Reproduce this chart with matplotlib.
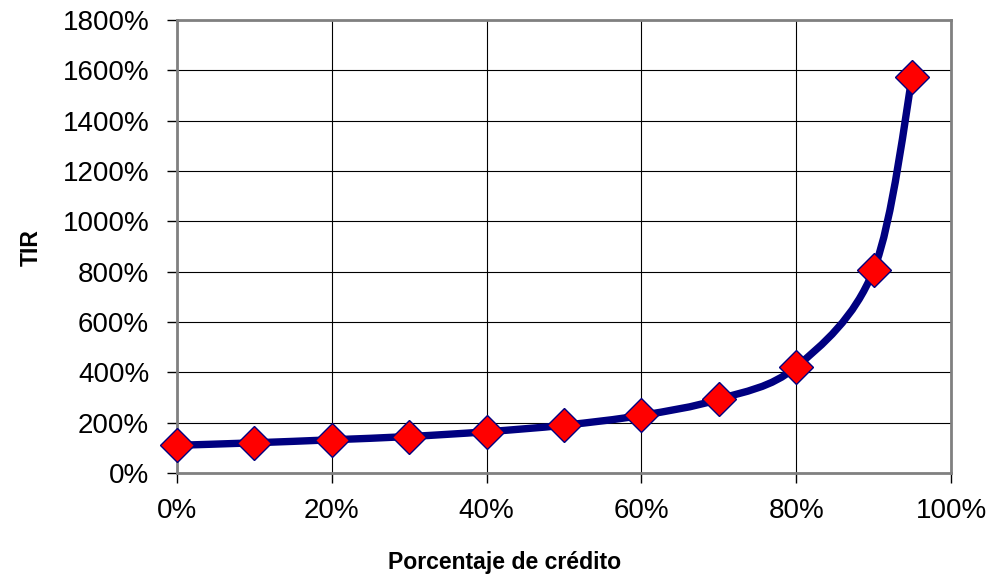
import matplotlib.pyplot as plt
from matplotlib.path import Path
from matplotlib.patches import PathPatch
from matplotlib.ticker import FuncFormatter, MultipleLocator

plt.rcParams['font.family'] = ['Liberation Sans', 'DejaVu Sans']

credito = [0.0, 0.10, 0.20, 0.30, 0.40, 0.50, 0.60, 0.70, 0.80, 0.90, 0.95]
tir = [1.10, 1.20, 1.32, 1.45, 1.64, 1.90, 2.29, 2.93, 4.22, 8.06, 15.74]

fig = plt.figure(figsize=(9.89, 5.78), dpi=100)
ax = fig.add_axes([177 / 989, 105 / 578, 774 / 989, 453 / 578])

# smoothed line like the spreadsheet one (Catmull-Rom -> bezier)
pts = list(zip(credito, tir))
verts = [pts[0]]
codes = [Path.MOVETO]
n = len(pts)
for i in range(n - 1):
    p0 = pts[max(i - 1, 0)]
    p1 = pts[i]
    p2 = pts[i + 1]
    p3 = pts[min(i + 2, n - 1)]
    c1 = (p1[0] + (p2[0] - p0[0]) / 6, p1[1] + (p2[1] - p0[1]) / 6)
    c2 = (p2[0] - (p3[0] - p1[0]) / 6, p2[1] - (p3[1] - p1[1]) / 6)
    verts += [c1, c2, p2]
    codes += [Path.CURVE4] * 3
ax.add_patch(PathPatch(Path(verts, codes), facecolor='none', edgecolor='#000080',
                       lw=5.3, capstyle='round', joinstyle='round', zorder=3,
                       clip_on=False))
ax.plot(credito, tir, ls='none', marker='D', ms=17, mfc='#ff0000', mec='#000080',
        mew=1, zorder=4, clip_on=False)

ax.set_xlim(0, 1)
ax.set_ylim(0, 18)
ax.xaxis.set_major_locator(MultipleLocator(0.2))
ax.yaxis.set_major_locator(MultipleLocator(2))
ax.xaxis.set_major_formatter(FuncFormatter(lambda v, p: f'{v * 100:.0f}%'))
ax.yaxis.set_major_formatter(FuncFormatter(lambda v, p: f'{v * 100:.0f}%'))
ax.tick_params(axis='both', labelsize=20, length=7, width=1, direction='out',
               color='black')
ax.tick_params(axis='y', pad=13)
ax.tick_params(axis='x', pad=11)
ax.grid(True, color='black', lw=0.8)
ax.set_axisbelow(True)
for s in ax.spines.values():
    s.set_color('#808080')
    s.set_linewidth(2)

fig.text(505 / 989, 1 - 562 / 578, 'Porcentaje de crédito', ha='center', va='center',
         fontsize=16.6, fontweight='bold')
fig.text(31 / 989, 1 - 248 / 578, 'TIR', ha='center', va='center', rotation=90,
         fontsize=16.6, fontweight='bold')

fig.savefig('out.png', dpi=100)
